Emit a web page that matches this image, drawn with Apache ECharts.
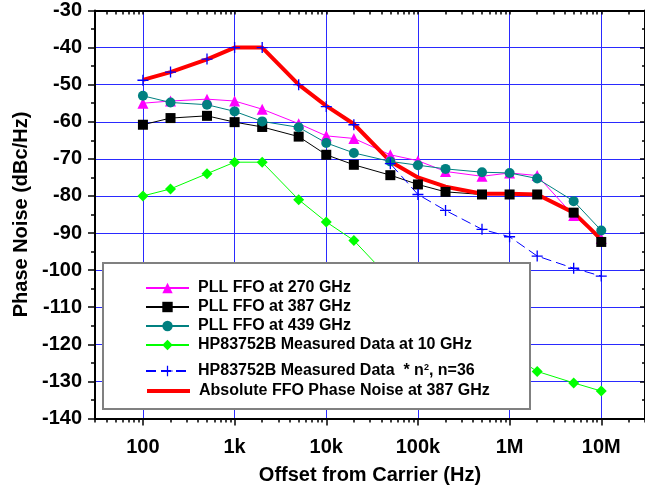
<!DOCTYPE html>
<html>
<head>
<meta charset="utf-8">
<script src="https://cdn.jsdelivr.net/npm/echarts@6/dist/echarts.min.js"></script>
<style>html,body{margin:0;padding:0;background:#fff}#c{width:645px;height:492px}</style>
</head>
<body>
<div id="c"></div>
<script>
// ---- data ----
const offsets = [100, 200, 500, 1e3, 2e3, 5e3, 1e4, 2e4, 5e4, 1e5, 2e5, 5e5, 1e6, 2e6, 5e6, 1e7];
const pll270 = [-55.0, -54.4, -53.9, -54.4, -56.6, -60.5, -63.8, -64.5, -68.9, -70.5, -73.4, -74.7, -73.8, -74.5, -85.3, -91.5];
const pll387 = [-60.8, -59.0, -58.4, -60.1, -61.4, -64.0, -68.9, -71.6, -74.4, -76.9, -78.9, -79.6, -79.6, -79.6, -84.5, -92.4];
const pll439 = [-53.0, -54.8, -55.4, -57.2, -59.9, -61.5, -65.7, -68.4, -70.7, -71.7, -72.7, -73.6, -73.8, -75.3, -81.4, -89.3];
const hp10 = [-80.0, -78.1, -74.0, -70.9, -70.9, -81.0, -87.0, -92.0, -102.4, -110.5, -115.0, -120.0, -122.5, -127.3, -130.4, -132.6];
const hpN2 = [-48.8, -46.6, -43.1, -40.0, -40.0, -50.0, -55.9, -60.8, -71.3, -79.6, -83.9, -89.0, -91.0, -96.2, -99.5, -101.6];
const absFFO = [-48.7, -46.6, -43.2, -40.0, -40.0, -50.0, -55.7, -60.6, -70.7, -75.0, -77.5, -79.4, -79.4, -79.6, -84.5, -91.7];
const xTickValues = [100, 1e3, 1e4, 1e5, 1e6, 1e7];
const xTickLabels = ['100', '1k', '10k', '100k', '1M', '10M'];
const seriesNames = ['PLL FFO at 270 GHz', 'PLL FFO at 387 GHz', 'PLL FFO at 439 GHz',
  'HP83752B Measured Data at 10 GHz', 'HP83752B Measured Data  * n2, n=36', 'Absolute FFO Phase Noise at 387 GHz'];
const xTitle = 'Offset from Carrier (Hz)';
const yTitle = 'Phase Noise (dBc/Hz)';

// ---- layout ----
const FONT = "'Liberation Sans', Arial, sans-serif";
const X_MIN = 30, X_MAX = 3e7;
const minorX = [];
for (let d = 10; d <= 1e7; d *= 10) for (let k = 2; k <= 9; k++) { const v = k * d; if (v >= X_MIN && v <= X_MAX) minorX.push(v); }
const allX = minorX.concat(xTickValues);

function pairs(ys) { return offsets.map((x, i) => [x, ys[i]]); }
const plusPath = 'path://M4.4,0H5.6V4.4H10V5.6H5.6V10H4.4V5.6H0V4.4H4.4Z';
const gridBlue = '#2a2aff';

const chart = echarts.init(document.getElementById('c'), null, { renderer: 'canvas' });

function lineSeries(name, ys, color, symbol, size, extra) {
  return Object.assign({
    name: name, type: 'line', data: pairs(ys), symbol: symbol, symbolSize: size,
    lineStyle: { color: color, width: 1 }, itemStyle: { color: color },
    emphasis: { disabled: true }, animation: false, xAxisIndex: 0, yAxisIndex: 0
  }, extra || {});
}

const legendTops = [280, 299, 318, 337, 363, 383];
const legends = seriesNames.map((n, i) => ({
  show: true,
  data: [i === 5 ? { name: n, itemStyle: { opacity: 0 }, lineStyle: { width: 4, color: '#ff0000' } } : { name: n }],
  left: 145, top: legendTops[i], orient: 'vertical',
  itemWidth: 43, itemHeight: 13, padding: 0, selectedMode: false, z: 100,
  formatter: i === 4 ? function () { return '{t|HP83752B Measured Data  * n}{s|2}{t|, n=36}'; } : undefined,
  textStyle: {
    fontFamily: FONT, fontWeight: 'bold', fontSize: 16, color: '#000', lineHeight: 15, padding: [0, 0, 0, 4],
    rich: {
      t: { fontFamily: FONT, fontWeight: 'bold', fontSize: 16, color: '#000', lineHeight: 15 },
      s: { fontFamily: FONT, fontWeight: 'bold', fontSize: 9, color: '#000', lineHeight: 15, verticalAlign: 'top', padding: [0, 0, 8, 0] }
    }
  }
}));

const option = {
  animation: false,
  backgroundColor: '#fff',
  grid: { left: 95, top: 10.5, width: 554, height: 408, containLabel: false },
  legend: legends,
  graphic: [{
    type: 'rect', z: 90, zlevel: 0,
    shape: { x: 103, y: 263, width: 427, height: 146 },
    style: { fill: '#fff', stroke: '#808080', lineWidth: 2 }
  }],
  xAxis: [
    {
      type: 'log', logBase: 10, min: X_MIN, max: X_MAX, position: 'bottom',
      axisLine: { show: true, lineStyle: { color: '#000', width: 2 } },
      axisTick: { show: true, customValues: xTickValues, length: 7, inside: false, lineStyle: { color: '#000', width: 1.5 } },
      minorTick: { show: false },
      axisLabel: {
        show: true, customValues: xTickValues, margin: 19,
        fontFamily: FONT, fontWeight: 'bold', fontSize: 20, color: '#000',
        formatter: function (v) {
          const i = xTickValues.findIndex(t => Math.abs(t - v) / t < 1e-6);
          return i >= 0 ? xTickLabels[i] : '';
        }
      },
      splitLine: { show: true, lineStyle: { color: gridBlue, width: 1 } },
      name: xTitle, nameLocation: 'middle', nameGap: 47,
      nameTextStyle: { fontFamily: FONT, fontWeight: 'bold', fontSize: 20, color: '#000' }
    },
    {
      type: 'log', logBase: 10, min: X_MIN, max: X_MAX, position: 'bottom',
      axisLine: { show: false },
      axisTick: { show: true, customValues: minorX, length: 4, inside: false, lineStyle: { color: '#000', width: 1.5 } },
      axisLabel: { show: false }, splitLine: { show: false }
    },
    {
      type: 'log', logBase: 10, min: X_MIN, max: X_MAX, position: 'top',
      axisLine: { show: true, lineStyle: { color: '#000', width: 2 } },
      axisTick: { show: true, customValues: allX, length: 4, inside: true, lineStyle: { color: '#000', width: 1.5 } },
      axisLabel: { show: false }, splitLine: { show: false }
    }
  ],
  yAxis: [
    {
      type: 'value', min: -140, max: -30, interval: 10, position: 'left',
      axisLine: { show: true, lineStyle: { color: '#000', width: 2 } },
      axisTick: { show: true, length: 7, inside: false, lineStyle: { color: '#000', width: 1.5 } },
      minorTick: { show: true, splitNumber: 2, length: 4, lineStyle: { color: '#000', width: 1.5 } },
      axisLabel: { show: true, margin: 13, fontFamily: FONT, fontWeight: 'bold', fontSize: 20, color: '#000' },
      splitLine: { show: true, lineStyle: { color: gridBlue, width: 1 } },
      name: yTitle, nameLocation: 'middle', nameGap: 55,
      nameTextStyle: { fontFamily: FONT, fontWeight: 'bold', fontSize: 20, color: '#000' }
    },
    {
      type: 'value', min: -140, max: -30, interval: 10, position: 'right',
      axisLine: { show: true, lineStyle: { color: '#000', width: 2 } },
      axisTick: { show: true, length: 5, inside: true, lineStyle: { color: '#000', width: 1.5 } },
      minorTick: { show: true, splitNumber: 2, length: 3, lineStyle: { color: '#000', width: 1.5 } },
      axisLabel: { show: false }, splitLine: { show: false }
    }
  ],
  series: [
    lineSeries(seriesNames[0], pll270, '#ff00ff', 'triangle', 11),
    lineSeries(seriesNames[1], pll387, '#000000', 'rect', 10),
    lineSeries(seriesNames[2], pll439, '#008080', 'circle', 10),
    lineSeries(seriesNames[3], hp10, '#00ff00', 'diamond', 11),
    lineSeries(seriesNames[4], hpN2, '#0000ff', plusPath, 11, { lineStyle: { color: '#0000ff', width: 1, type: [10, 5] } }),
    lineSeries(seriesNames[5], absFFO, '#ff0000', 'none', 0, { lineStyle: { color: '#ff0000', width: 4 } })
  ]
};
chart.setOption(option);
</script>
</body>
</html>
